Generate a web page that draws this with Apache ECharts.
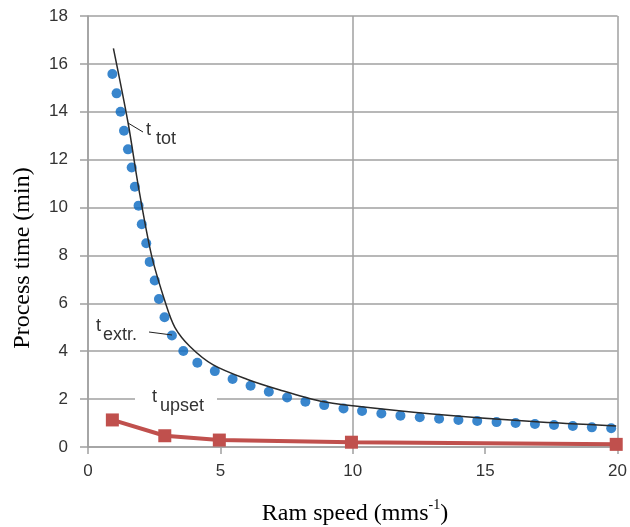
<!DOCTYPE html>
<html>
<head>
<meta charset="utf-8">
<title>Process time vs ram speed</title>
<script src="https://cdn.jsdelivr.net/npm/echarts@6/dist/echarts.min.js"></script>
<style>
    html, body { margin: 0; padding: 0; background: #fff; }
    #chart { width: 630px; height: 527px; }
</style>
</head>
<body>
<div id="chart"></div>
<script>
    // extrusion time points (blue dots)
    var extrX = [0.92, 1.08, 1.23, 1.36, 1.51, 1.65, 1.77, 1.91, 2.03, 2.20, 2.33, 2.52, 2.68, 2.89, 3.17, 3.60,
        4.13, 4.79, 5.46, 6.14, 6.83, 7.52, 8.21, 8.92, 9.65, 10.35, 11.08, 11.8, 12.53, 13.26, 13.99, 14.7,
        15.43, 16.15, 16.88, 17.6, 18.31, 19.03, 19.76];
    var extrY = [15.58, 14.77, 14.0, 13.21, 12.43, 11.67, 10.87, 10.08, 9.30, 8.51, 7.73, 6.95, 6.18, 5.42, 4.66, 4.01,
        3.52, 3.17, 2.84, 2.56, 2.31, 2.07, 1.89, 1.75, 1.61, 1.50, 1.40, 1.31, 1.24, 1.18, 1.13, 1.09,
        1.04, 1.00, 0.96, 0.92, 0.88, 0.82, 0.78];
    // total time curve (black line)
    var totX = [0.96, 1.52, 1.9, 2.4, 2.93, 3.28, 3.85, 4.73, 6.0, 7.25, 8.75, 10.0, 13.0, 16.8, 19.95];
    var totY = [16.65, 13.5, 10.9, 8.0, 6.0, 5.0, 4.2, 3.43, 2.83, 2.38, 1.92, 1.72, 1.38, 1.06, 0.88];
    // upset time (red squares)
    var upsetX = [0.92, 2.9, 4.96, 9.95, 19.95];
    var upsetY = [1.13, 0.47, 0.29, 0.20, 0.11];

    function pairs(xs, ys) {
        var out = [];
        for (var i = 0; i < xs.length; i++) out.push([xs[i], ys[i]]);
        return out;
    }

    var gridColor = '#a0a0a0';
    var textColor = '#333';
    var labelFont = 'Liberation Sans';
    var titleFont = 'Liberation Serif';

    var chart = echarts.init(document.getElementById('chart'));
    var option = {
        backgroundColor: '#fff',
        animation: false,
        grid: { left: 88, right: 12, top: 16, bottom: 80 },
        xAxis: [{
            type: 'value',
            min: 0, max: 20, interval: 5,
            axisLine: { show: true, lineStyle: { color: gridColor, width: 1.5 } },
            axisTick: { show: true, length: 7, lineStyle: { color: gridColor, width: 1.5 } },
            axisLabel: { color: textColor, fontSize: 17, fontFamily: labelFont, margin: 16 },
            splitLine: { show: false }
        }, {
            type: 'value',
            min: 0, max: 20, interval: 10,
            axisLine: { show: false },
            axisTick: { show: false },
            axisLabel: { show: false },
            splitLine: { show: true, lineStyle: { color: gridColor, width: 1.5 } }
        }],
        yAxis: {
            type: 'value',
            min: 0, max: 18, interval: 2,
            axisLine: { show: true, lineStyle: { color: gridColor, width: 1.5 } },
            axisTick: { show: true, length: 8, lineStyle: { color: gridColor, width: 1.5 } },
            axisLabel: { color: textColor, fontSize: 17, fontFamily: labelFont, margin: 20 },
            splitLine: { show: true, lineStyle: { color: gridColor, width: 1.5 } }
        },
        series: [
            {
                name: 't extr.',
                type: 'scatter',
                data: pairs(extrX, extrY),
                symbol: 'circle',
                symbolSize: 10,
                itemStyle: { color: '#0868c0' },
                z: 2
            },
            {
                name: 't tot',
                type: 'line',
                data: pairs(totX, totY),
                smooth: 0.3,
                showSymbol: false,
                lineStyle: { color: '#2a2a2a', width: 1.5 },
                z: 3
            },
            {
                name: 't upset',
                type: 'line',
                data: pairs(upsetX, upsetY),
                symbol: 'rect',
                symbolSize: 13,
                lineStyle: { color: '#c0504d', width: 4 },
                itemStyle: { color: '#c0504d' },
                z: 4
            }
        ],
        graphic: [
            // axis titles
            {
                type: 'text', x: 23, y: 258, rotation: Math.PI / 2,
                style: {
                    text: 'Process time (min)', font: '24px ' + titleFont, fill: '#000',
                    textAlign: 'center', textVerticalAlign: 'middle'
                }
            },
            {
                type: 'text', x: 355, y: 512,
                style: {
                    text: '{a|Ram speed (mms}{s|-1}{a|)}',
                    textAlign: 'center', textVerticalAlign: 'middle',
                    rich: {
                        a: { fontSize: 24, fontFamily: titleFont, fill: '#000', lineHeight: 28, verticalAlign: 'bottom' },
                        s: { fontSize: 14, fontFamily: titleFont, fill: '#000', lineHeight: 28, verticalAlign: 'top' }
                    }
                }
            },
            // series annotations
            {
                type: 'line', shape: { x1: 128, y1: 123, x2: 143, y2: 132 },
                style: { stroke: '#222', lineWidth: 1 }, z: 20
            },
            {
                type: 'text', x: 146, y: 121, z: 20,
                style: {
                    text: '{t|t}{s|tot}',
                    rich: {
                        t: { fontSize: 18, fontFamily: labelFont, fill: textColor, lineHeight: 27, verticalAlign: 'top' },
                        s: { fontSize: 18, fontFamily: labelFont, fill: textColor, lineHeight: 27, verticalAlign: 'bottom', padding: [0, 0, 0, 5] }
                    }
                }
            },
            {
                type: 'line', shape: { x1: 149, y1: 332, x2: 172, y2: 335 },
                style: { stroke: '#222', lineWidth: 1 }, z: 20
            },
            {
                type: 'text', x: 96, y: 317, z: 20,
                style: {
                    text: '{t|t}{s|extr.}',
                    rich: {
                        t: { fontSize: 18, fontFamily: labelFont, fill: textColor, lineHeight: 27, verticalAlign: 'top' },
                        s: { fontSize: 18, fontFamily: labelFont, fill: textColor, lineHeight: 27, verticalAlign: 'bottom', padding: [0, 0, 0, 2] }
                    }
                }
            },
            {
                type: 'rect', shape: { x: 135, y: 395, width: 82, height: 8 },
                style: { fill: '#fff' }, z: 15
            },
            {
                type: 'text', x: 152, y: 388, z: 20,
                style: {
                    text: '{t|t}{s|upset}',
                    rich: {
                        t: { fontSize: 18, fontFamily: labelFont, fill: textColor, lineHeight: 27, verticalAlign: 'top' },
                        s: { fontSize: 18, fontFamily: labelFont, fill: textColor, lineHeight: 27, verticalAlign: 'bottom', padding: [0, 0, 0, 3] }
                    }
                }
            }
        ]
    };
    chart.setOption(option);
</script>
</body>
</html>
